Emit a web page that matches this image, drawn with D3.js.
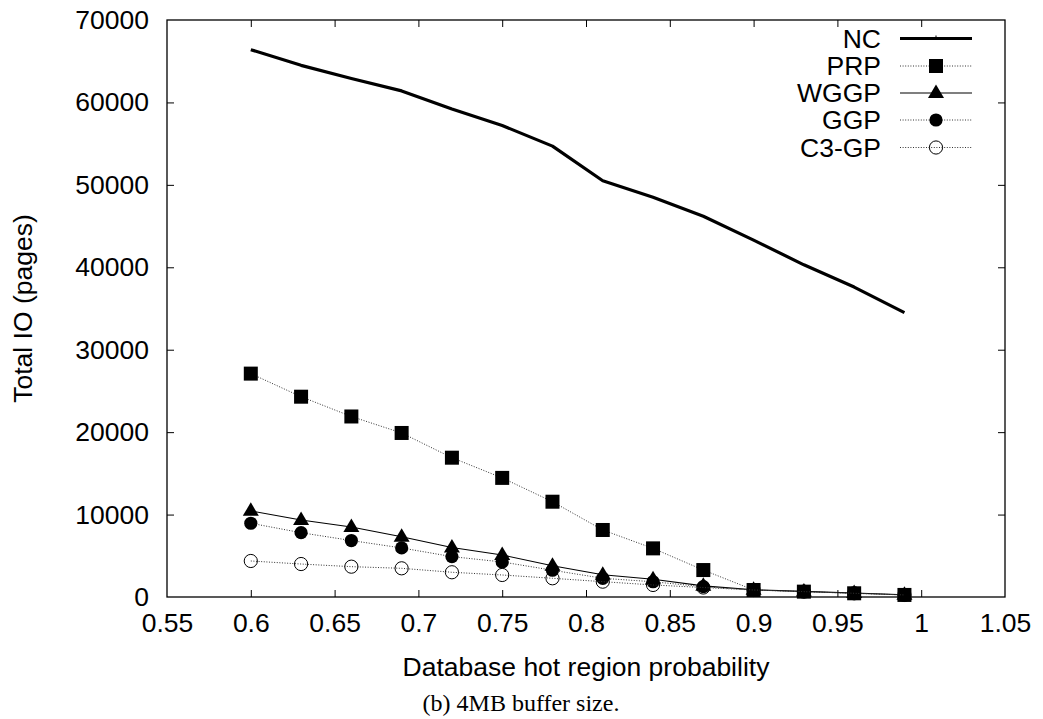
<!DOCTYPE html>
<html>
<head>
<meta charset="utf-8">
<script src="https://cdn.jsdelivr.net/npm/d3@7"></script>
<style>
  html, body { margin: 0; padding: 0; background: #fff; }
  svg { display: block; }
  text { font-family: "Liberation Sans", Arial, Helvetica, sans-serif; fill: #000; }
</style>
</head>
<body>
<svg id="chart" width="1043" height="719"></svg>
<script>
// ---- data ----
const xValues = [0.60, 0.63, 0.66, 0.69, 0.72, 0.75, 0.78, 0.81, 0.84, 0.87, 0.90, 0.93, 0.96, 0.99];
const ncValues   = [66400, 64500, 62900, 61400, 59200, 57200, 54700, 50500, 48500, 46200, 43300, 40300, 37600, 34500];
const prpValues  = [27100, 24300, 21900, 19900, 16900, 14450, 11560, 8130, 5900, 3270, 850, 650, 450, 250];
const wggpValues = [10450, 9350, 8500, 7300, 6000, 5100, 3800, 2700, 2150, 1350, 880, 680, 480, 280];
const ggpValues  = [8950, 7800, 6850, 5950, 4900, 4250, 3250, 2270, 1850, 1250, 850, 650, 450, 250];
const c3gpValues = [4370, 4000, 3680, 3480, 3000, 2670, 2270, 1860, 1460, 1150, 850, 650, 450, 250];
const seriesNames = ["NC", "PRP", "WGGP", "GGP", "C3-GP"];
const xTicks = [0.55, 0.6, 0.65, 0.7, 0.75, 0.8, 0.85, 0.9, 0.95, 1, 1.05];
const yTicks = [0, 10000, 20000, 30000, 40000, 50000, 60000, 70000];
const xTitle = "Database hot region probability";
const yTitle = "Total IO (pages)";
const caption = "(b) 4MB buffer size.";

// ---- layout ----
const FS = "26.5px";
const svg = d3.select("#chart");
const L = 167, R = 1005, T = 20, B = 597;
const x = d3.scaleLinear().domain([0.55, 1.05]).range([L, R]);
const y = d3.scaleLinear().domain([0, 70000]).range([B, T]);

const series = [
  { name: seriesNames[0], values: ncValues,   stroke: "#000", width: 3.2, dash: null,  marker: "none" },
  { name: seriesNames[1], values: prpValues,  stroke: "#333", width: 1,   dash: "1,1.6", marker: "square" },
  { name: seriesNames[2], values: wggpValues, stroke: "#000", width: 1.1, dash: null,  marker: "triangle" },
  { name: seriesNames[3], values: ggpValues,  stroke: "#333", width: 1,   dash: "1,1.6", marker: "circle" },
  { name: seriesNames[4], values: c3gpValues, stroke: "#333", width: 1,   dash: "1,1.6", marker: "ocircle" }
];

// frame
svg.append("rect").attr("x", L).attr("y", T).attr("width", R - L).attr("height", B - T)
  .attr("fill", "none").attr("stroke", "#000").attr("stroke-width", 1.3);

// axes with inward ticks (mirrored)
const tk = 7;
const gx = svg.append("g").attr("transform", `translate(0,${B})`)
  .call(d3.axisBottom(x).tickValues(xTicks).tickFormat(d3.format("")).tickSizeInner(-tk).tickSizeOuter(0).tickPadding(16));
const gxt = svg.append("g").attr("transform", `translate(0,${T})`)
  .call(d3.axisTop(x).tickValues(xTicks).tickFormat("").tickSizeInner(-tk).tickSizeOuter(0));
const gy = svg.append("g").attr("transform", `translate(${L},0)`)
  .call(d3.axisLeft(y).tickValues(yTicks).tickFormat(d3.format("d")).tickSizeInner(-tk).tickSizeOuter(0).tickPadding(18));
const gyr = svg.append("g").attr("transform", `translate(${R},0)`)
  .call(d3.axisRight(y).tickValues(yTicks).tickFormat("").tickSizeInner(-tk).tickSizeOuter(0));
[gx, gxt, gy, gyr].forEach(g => {
  g.select(".domain").remove();
  g.selectAll(".tick line").attr("stroke", "#000").attr("stroke-width", 1);
  g.selectAll("text").style("font-family", '"Liberation Sans", Arial, sans-serif')
    .style("font-size", FS).attr("fill", "#000");
});
gx.selectAll(".tick text").attr("dy", "0.71em").attr("y", 16);
// hide end ticks on the frame edges
[gx, gxt].forEach(g => g.selectAll(".tick line").filter(d => d === 0.55 || d === 1.05).remove());
[gy, gyr].forEach(g => g.selectAll(".tick line").filter(d => d === 0 || d === 70000).remove());

// titles
svg.append("text").attr("x", (L + R) / 2).attr("y", 676).attr("text-anchor", "middle")
  .style("font-size", FS).text(xTitle);
svg.append("text").attr("transform", `translate(32,${(T + B) / 2}) rotate(-90)`).attr("text-anchor", "middle")
  .style("font-size", FS).text(yTitle);
svg.append("text").attr("x", 521).attr("y", 711).attr("text-anchor", "middle")
  .style("font-family", '"Liberation Serif", "Times New Roman", serif').style("font-size", "24px").text(caption);

// markers
function drawMarker(g, type, cx, cy) {
  if (type === "square") {
    g.append("rect").attr("x", cx - 7).attr("y", cy - 7).attr("width", 14).attr("height", 14).attr("fill", "#000");
  } else if (type === "triangle") {
    g.append("path").attr("d", `M${cx},${cy - 8.5}L${cx + 8},${cy + 5}L${cx - 8},${cy + 5}Z`).attr("fill", "#000");
  } else if (type === "circle") {
    g.append("circle").attr("cx", cx).attr("cy", cy).attr("r", 6.6).attr("fill", "#000");
  } else if (type === "ocircle") {
    g.append("circle").attr("cx", cx).attr("cy", cy).attr("r", 6.6).attr("fill", "none")
      .attr("stroke", "#000").attr("stroke-width", 1);
  }
}

const line = d3.line().x(d => x(d[0])).y(d => y(d[1]));
series.forEach(s => {
  const g = svg.append("g");
  const pts = xValues.map((xv, i) => [xv, s.values[i]]);
  g.append("path").datum(pts).attr("d", line).attr("fill", "none")
    .attr("stroke", s.stroke).attr("stroke-width", s.width)
    .attr("stroke-dasharray", s.dash).attr("stroke-linejoin", "round");
  pts.forEach(p => drawMarker(g, s.marker, x(p[0]), y(p[1])));
});

// legend
const legY = [38.5, 66, 93, 120, 147.5];
series.forEach((s, i) => {
  const g = svg.append("g");
  g.append("text").attr("x", 881).attr("y", legY[i]).attr("dy", "0.35em").attr("text-anchor", "end")
    .style("font-size", FS).text(s.name);
  g.append("line").attr("x1", 900).attr("x2", 972).attr("y1", legY[i]).attr("y2", legY[i])
    .attr("stroke", s.stroke).attr("stroke-width", s.width).attr("stroke-dasharray", s.dash);
  if (s.marker === "none") {
    g.append("line").attr("x1", 936).attr("x2", 936).attr("y1", legY[i] - 3).attr("y2", legY[i])
      .attr("stroke", "#000").attr("stroke-width", 1);
  } else {
    drawMarker(g, s.marker, 936, legY[i]);
  }
});
</script>
</body>
</html>
